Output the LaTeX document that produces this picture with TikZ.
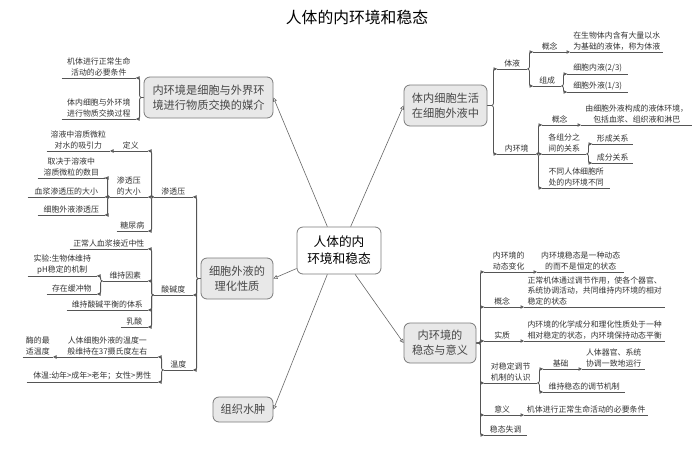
\documentclass[tikz,border=0pt]{standalone}
\usepackage{fontspec}
\setmainfont{Noto Sans CJK SC}
\usetikzlibrary{arrows.meta}
\definecolor{ln}{HTML}{555555}
\definecolor{tx}{HTML}{333333}
\definecolor{mfill}{HTML}{E8E8E8}
\definecolor{mdraw}{HTML}{7A7A7A}
\tikzset{
 itm/.style={font=\fontsize{7.9}{10.5}\selectfont, text=tx, inner xsep=0pt, inner ysep=1.8pt, align=center, minimum width=#1},
 rw/.style={itm=#1, anchor=south west},
 lw/.style={itm=#1, anchor=south east},
 mainbox/.style={draw=mdraw, fill=mfill, rounded corners=6pt, line width=0.8pt, font=\fontsize{11.2}{15}\selectfont, text=black!72, align=center, inner sep=2pt},
 conn/.style={draw=ln, line width=0.8pt, rounded corners=2pt, -{Triangle[open,length=3.5pt,width=3.5pt]}},
 uln/.style={draw=ln, line width=0.8pt},
 spoke/.style={draw=black!60, line width=0.6pt, -{Triangle[open,length=4pt,width=4pt]}}
}
\begin{document}
\begin{tikzpicture}[x=1pt,y=-1pt]
\useasboundingbox (0,0) rectangle (700,450);
% title
\node[font=\fontsize{15.8}{18}\selectfont] (title) at (357,17) {人体的内环境和稳态};
% center
\node[draw=mdraw, fill=white, rounded corners=6pt, line width=0.8pt, minimum width=84pt, minimum height=47pt, font=\fontsize{12.7}{17}\selectfont, align=center, inner sep=2pt] (c) at (339,250.5) {人体的内\\环境和稳态};
% main boxes
\node[mainbox, minimum width=129pt, minimum height=41pt] (tl) at (208.5,97.5) {内环境是细胞与外界环\\境进行物质交换的媒介};
\node[mainbox, minimum width=72pt, minimum height=41pt] (ml) at (237,278.5) {细胞外液的\\理化性质};
\node[mainbox, minimum width=60pt, minimum height=25pt] (zz) at (243,409.5) {组织水肿};
\node[mainbox, minimum width=83pt, minimum height=41pt] (tr) at (445.5,105.5) {体内细胞生活\\在细胞外液中};
\node[mainbox, minimum width=72pt, minimum height=40pt] (br) at (440,343) {内环境的\\稳态与意义};
% spokes
\draw[spoke] (c.116) -- (tl.east);
\draw[spoke] (c.64) -- (tr.west);
\draw[spoke] (c.203) -- (ml.east);
\draw[spoke] (c.244) -- (zz.east);
\draw[spoke] (c.304) -- (br.west);
% ---------- top left
\node[lw=74pt] (tl1) at (136,78) {机体进行正常生命\\活动的必要条件};
\node[lw=74pt] (tl2) at (136,119) {体内细胞与外环境\\进行物质交换过程};
% ---------- middle left
\node[lw=39pt] (sty) at (193,197) {渗透压};
\node[lw=39pt] (sjd) at (193,295) {酸碱度};
\node[lw=29pt] (wd) at (193,370) {温度};
\node[lw=34pt] (dy) at (148,151) {定义};
\node[lw=63pt] (dy1) at (110,151) {溶液中溶质微粒\\对水的吸引力};
\node[lw=38pt] (dx) at (148,197) {渗透压\\的大小};
\node[lw=67pt] (dx1) at (105,178) {取决于溶液中\\溶质微粒的数目};
\node[lw=77pt] (dx2) at (105,197) {血浆渗透压的大小};
\node[lw=67pt] (dx3) at (105,215) {细胞外液渗透压};
\node[lw=31pt] (tnb) at (148,231) {糖尿病};
\node[lw=78pt] (sj1) at (148,249) {正常人血浆接近中性};
\node[lw=45pt] (sj2) at (148,281) {维持因素};
\node[lw=81pt] (sj3) at (148,310) {维持酸碱平衡的体系};
\node[lw=27pt] (sj4) at (148,327) {乳酸};
\node[lw=69pt] (ws1) at (97,276) {实验:生物体维持\\pH稳定的机制};
\node[lw=50pt] (ws2) at (97,294) {存在缓冲物};
\node[lw=101pt] (wd1) at (158,357) {人体细胞外液的温度一\\般维持在37摄氏度左右};
\node[lw=131pt] (wd2) at (158,382) {体温:幼年>成年>老年；女性>男性};
\node[lw=30pt] (wd3) at (53,357) {酶的最\\适温度};
% ---------- top right
\node[rw=30pt] (ty) at (497,69) {体液};
\node[rw=39pt] (nhj) at (497,154) {内环境};
\node[rw=33pt] (ty1) at (533,52) {概念};
\node[rw=93pt] (ty1a) at (570,52) {在生物体内含有大量以水\\为基础的液体，称为体液};
\node[rw=28pt] (ty2) at (533,86) {组成};
\node[rw=61pt] (ty2a) at (567,74) {细胞内液(2/3)};
\node[rw=61pt] (ty2b) at (567,92) {细胞外液(1/3)};
\node[rw=35pt] (nh1) at (542,125) {概念};
\node[rw=111pt] (nh1a) at (581,125) {由细胞外液构成的液体环境，\\包括血浆、组织液和淋巴};
\node[rw=44pt] (nh2) at (542,154) {各组分之\\间的关系};
\node[rw=41pt] (nh2a) at (592,144) {形成关系};
\node[rw=41pt] (nh2b) at (592,163) {成分关系};
\node[rw=68pt] (nh3) at (542,188) {不同人体细胞所\\处的内环境不同};
% ---------- bottom right
\node[rw=49pt] (b1) at (484,272) {内环境的\\动态变化};
\node[rw=87pt] (b1a) at (537,272) {内环境稳态是一种动态\\的而不是恒定的状态};
\node[rw=36pt] (b2) at (484,307) {概念};
\node[rw=141pt, align=left] (b2a) at (524,307) {正常机体通过调节作用，使各个器官、\\系统协调活动，共同维持内环境的相对\\稳定的状态};
\node[rw=36pt] (b3) at (484,341) {实质};
\node[rw=141pt, align=left] (b3a) at (524,341) {内环境的化学成分和理化性质处于一种\\相对稳定的状态，内环境保持动态平衡};
\node[rw=53pt] (b4) at (484,383) {对稳定调节\\机制的认识};
\node[rw=35pt] (b4a) at (543,369) {基础};
\node[rw=63pt] (b4a1) at (582,369) {人体器官、系统\\协调一致地运行};
\node[rw=82pt] (b4b) at (543,392) {维持稳态的调节机制};
\node[rw=36pt] (b5) at (484,415) {意义};
\node[rw=124pt] (b5a) at (524,415) {机体进行正常生命活动的必要条件};
\node[rw=43pt] (b6) at (484,435) {稳态失调};
% underlines
\foreach \n in {tl1,tl2,sty,sjd,wd,dy,dy1,dx,dx1,dx2,dx3,tnb,sj1,sj2,sj3,sj4,ws1,ws2,wd1,wd2,wd3,ty,nhj,ty1,ty1a,ty2,ty2a,ty2b,nh1,nh1a,nh2,nh2a,nh2b,nh3,b1,b1a,b2,b2a,b3,b3a,b4,b4a,b4a1,b4b,b5,b5a,b6}
  \draw[uln] (\n.south west) -- (\n.south east);
% connectors left
\foreach \k in {tl1,tl2} \draw[conn] (tl.west) -- ++(-4,0) |- (\k.south east);
\foreach \k in {sty,sjd,wd} \draw[conn] (ml.west) -- ++(-4,0) |- (\k.south east);
\foreach \k in {dy,dx,tnb} \draw[conn] (sty.south west) -- ++(-2,0) |- (\k.south east);
\draw[conn] (dy.south west) -- (dy1.south east);
\foreach \k in {dx1,dx2,dx3} \draw[conn] (dx.south west) -- ++(-2,0) |- (\k.south east);
\foreach \k in {sj1,sj2,sj3,sj4} \draw[conn] (sjd.south west) -- ++(-2,0) |- (\k.south east);
\foreach \k in {ws1,ws2} \draw[conn] (sj2.south west) -- ++(-2,0) |- (\k.south east);
\foreach \k in {wd1,wd2} \draw[conn] (wd.south west) -- ++(-2,0) |- (\k.south east);
\draw[conn] (wd1.south west) -- (wd3.south east);
% connectors right
\foreach \k in {ty,nhj} \draw[conn] (tr.east) -- ++(6,0) |- (\k.south west);
\foreach \k in {ty1,ty2} \draw[conn] (ty.south east) -- ++(2,0) |- (\k.south west);
\draw[conn] (ty1.south east) -- (ty1a.south west);
\foreach \k in {ty2a,ty2b} \draw[conn] (ty2.south east) -- ++(2,0) |- (\k.south west);
\foreach \k in {nh1,nh2,nh3} \draw[conn] (nhj.south east) -- ++(2,0) |- (\k.south west);
\draw[conn] (nh1.south east) -- (nh1a.south west);
\foreach \k in {nh2a,nh2b} \draw[conn] (nh2.south east) -- ++(2,0) |- (\k.south west);
\foreach \k in {b1,b2,b3,b4,b5,b6} \draw[conn] (br.east) -- ++(4,0) |- (\k.south west);
\draw[conn] (b1.south east) -- (b1a.south west);
\draw[conn] (b2.south east) -- (b2a.south west);
\draw[conn] (b3.south east) -- (b3a.south west);
\foreach \k in {b4a,b4b} \draw[conn] (b4.south east) -- ++(2,0) |- (\k.south west);
\draw[conn] (b4a.south east) -- (b4a1.south west);
\draw[conn] (b5.south east) -- (b5a.south west);
\end{tikzpicture}
\end{document}
